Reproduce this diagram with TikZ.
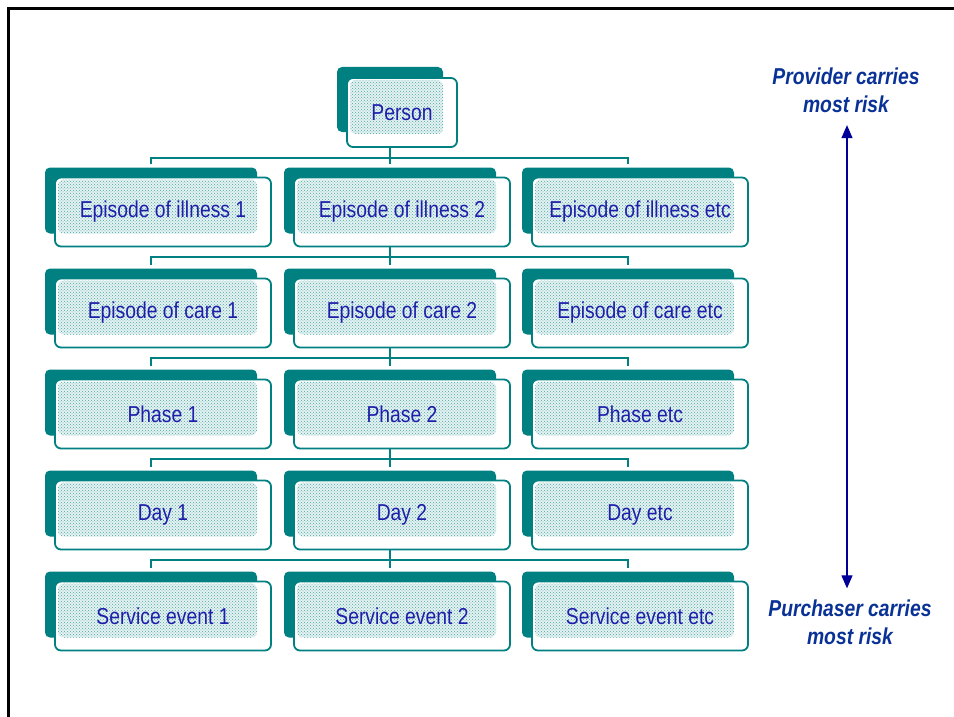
\documentclass[tikz,border=0pt]{standalone}
\usepackage{fontspec}
\setmainfont[FakeStretch=0.84]{Liberation Sans}
\usetikzlibrary{positioning, patterns, arrows.meta}
\definecolor{boxteal}{RGB}{0,128,128}
\definecolor{boxtext}{RGB}{30,30,170}
\definecolor{risktext}{RGB}{10,50,150}
\definecolor{riskline}{RGB}{0,0,153}

\tikzset{
  backbox/.style={fill=boxteal, rounded corners=5pt, minimum width=212pt,
    minimum height=66pt, inner sep=0pt},
  frontbox/.style={draw=boxteal, line width=1.8pt, fill=white, rounded corners=6pt,
    minimum width=216pt, minimum height=69pt, inner sep=0pt, text=boxtext,
    font=\fontsize{23}{28}\selectfont,
    path picture={\fill[boxteal!10, postaction={pattern=crosshatch dots, pattern color=boxteal!70}]
      ([shift={(3pt,-2pt)}]path picture bounding box.north west) rectangle
      ([shift={(-14pt,13pt)}]path picture bounding box.south east);}},
  conn/.style={draw=boxteal, line width=2pt},
  risklabel/.style={text=risktext, align=center, inner sep=0pt,
    font=\fontsize{23}{28}\selectfont\bfseries\itshape},
  riskarrow/.style={draw=riskline, line width=1.2pt,
    {Triangle[length=13pt,width=11pt]}-{Triangle[length=13pt,width=11pt]}}
}

% back box first, then the front box on top of it
\newcommand{\riskbox}[3]{%
  \node[backbox] (#1-bk) at ([shift={(-12pt,11.5pt)}]#2) {};
  \node[frontbox] (#1) at (#2) {#3};}

\begin{document}
\begin{tikzpicture}[x=1pt, y=-1pt]
  \useasboundingbox (0,0) rectangle (954,717);
  \draw[line width=3pt] (8,717) -- (8,9) -- (954,9);

  \node[backbox, minimum width=106pt, minimum height=65pt] (person-bk) at (390,99.5) {};
  \node[frontbox, minimum width=110pt] (person) at (402,112.5) {Person};

  \foreach \nm/\y/\ta/\tb/\tc in {
      ill/212/Episode of illness 1/Episode of illness 2/Episode of illness etc,
      care/313/Episode of care 1/Episode of care 2/Episode of care etc,
      phase/414/Phase 1/Phase 2/Phase etc,
      day/515/Day 1/Day 2/Day etc,
      serv/616/Service event 1/Service event 2/Service event etc}{
    \riskbox{\nm1}{163,\y}{\ta}
    \riskbox{\nm2}{402,\y}{\tb}
    \riskbox{\nm3}{640,\y}{\tc}
  }

  \foreach \u/\l in {person/ill, ill2/care, care2/phase, phase2/day, day2/serv}{
    \draw[conn] (\u-bk.south |- \u.south) -- ++(0,10) coordinate (bus);
    \draw[conn] ([yshift=3pt]\l1-bk.north) |- (bus) -| ([yshift=3pt]\l3-bk.north);
    \draw[conn] (bus) -- ([yshift=3pt]\l2-bk.north);
  }

  \node[risklabel] (provider) at (846,90.5) {Provider carries\\most risk};
  \node[risklabel] (purchaser) at (850,622) {Purchaser carries\\most risk};
  \draw[riskarrow, shorten <=12pt, shorten >=11pt]
    ([xshift=1pt]provider.south) -- ([xshift=1pt]provider.south |- purchaser.north);
\end{tikzpicture}
\end{document}
